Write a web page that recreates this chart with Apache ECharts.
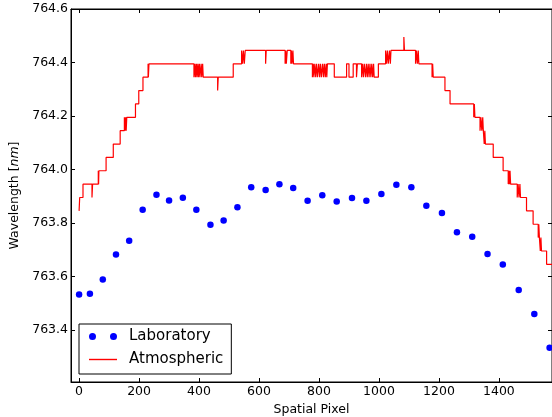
<!DOCTYPE html>
<html>
<head>
<meta charset="utf-8">
<script src="https://cdn.jsdelivr.net/npm/echarts@6/dist/echarts.min.js"></script>
<style>
  html, body { margin: 0; padding: 0; background: #fff; }
  #chart { width: 552px; height: 417px; }
</style>
</head>
<body>
<div id="chart"></div>
<script>
// Laboratory measurements: spatial pixel vs. wavelength (nm)
const labPixel = [0, 36, 79, 123, 167, 212, 258, 300, 346, 391, 438, 482, 528, 574, 622, 668, 714,
  762, 811, 859, 910, 958, 1008, 1058, 1108, 1158, 1210, 1260, 1311, 1362, 1413, 1466, 1518, 1569];
const labWave = [763.532, 763.535, 763.588, 763.682, 763.733, 763.849, 763.905, 763.884, 763.894,
  763.849, 763.793, 763.809, 763.859, 763.933, 763.923, 763.945, 763.931, 763.883, 763.903,
  763.880, 763.893, 763.883, 763.908, 763.943, 763.933, 763.864, 763.837, 763.765, 763.748,
  763.684, 763.644, 763.549, 763.459, 763.333];

// Atmospheric line centre: quantised step profile (each value holds until the next pixel listed)
const atmPixel = [
  0, 2, 13, 43, 45, 64, 65, 66, 90, 114,
  137, 151, 153, 155, 157, 159, 188, 199, 213, 230, 231, 233,
  383, 386, 388, 391, 393, 396, 398, 401, 403, 407, 409, 412, 414,
  462, 464, 514, 542, 545, 548, 551, 554, 622, 624,
  687, 689, 691, 694, 706, 708, 710, 713, 715,
  778, 781, 783, 786, 789, 792, 795, 799, 802, 805, 808, 812, 815, 818, 821, 824, 826, 828,
  851, 892, 900, 914, 925, 928,
  942, 945, 948, 951, 955, 958, 961, 964, 967, 970, 973, 976, 979, 982, 984, 998,
  1022, 1025, 1028, 1031, 1035, 1038, 1040, 1083, 1085,
  1122, 1125, 1128, 1131, 1133, 1177, 1179, 1181,
  1220, 1237, 1316, 1318, 1320, 1337, 1340, 1343, 1346, 1348,
  1351, 1353, 1355, 1381, 1414, 1431, 1433, 1435, 1437, 1439,
  1461, 1464, 1467, 1470, 1472, 1492, 1514,
  1531, 1533, 1535, 1538, 1540, 1542, 1559, 1580
];
const atmWave = [
  763.845, 763.895, 763.945, 763.895, 763.945, 763.995, 763.945, 763.995, 764.045, 764.095,
  764.145, 764.195, 764.145, 764.195, 764.145, 764.195, 764.245, 764.295, 764.345, 764.395, 764.345, 764.395,
  764.345, 764.395, 764.345, 764.395, 764.345, 764.395, 764.345, 764.395, 764.345, 764.395, 764.345, 764.395, 764.345,
  764.295, 764.345, 764.395, 764.445, 764.395, 764.445, 764.395, 764.445, 764.395, 764.445,
  764.395, 764.445, 764.395, 764.445, 764.395, 764.445, 764.395, 764.445, 764.395,
  764.345, 764.395, 764.345, 764.395, 764.345, 764.395, 764.345, 764.395, 764.345, 764.395, 764.345, 764.395, 764.345, 764.395, 764.345, 764.395, 764.345, 764.395,
  764.345, 764.395, 764.345, 764.395, 764.345, 764.395,
  764.345, 764.395, 764.345, 764.395, 764.345, 764.395, 764.345, 764.395, 764.345, 764.395, 764.345, 764.395, 764.345, 764.395, 764.345, 764.395,
  764.445, 764.395, 764.445, 764.395, 764.445, 764.395, 764.445, 764.495, 764.445,
  764.395, 764.445, 764.395, 764.445, 764.395, 764.345, 764.395, 764.345,
  764.295, 764.245, 764.195, 764.245, 764.195, 764.145, 764.195, 764.145, 764.195, 764.145,
  764.095, 764.145, 764.095, 764.045, 763.995, 763.945, 763.995, 763.945, 763.995, 763.945,
  763.895, 763.945, 763.895, 763.945, 763.895, 763.845, 763.795,
  763.745, 763.795, 763.745, 763.695, 763.745, 763.695, 763.645, 763.645
];

// Axis ticks
const xTicks = [0, 200, 400, 600, 800, 1000, 1200, 1400];
const yTicks = [763.4, 763.6, 763.8, 764.0, 764.2, 764.4, 764.6];

const FONT = 'DejaVu Sans';
const X_MIN = -27, X_MAX = 1577, Y_MIN = 763.205, Y_MAX = 764.6;

const labData = labPixel.map((x, i) => [x, labWave[i]]);
const atmData = atmPixel.map((x, i) => [x, atmWave[i]]);

const tickCommon = { inside: true, length: 4, lineStyle: { color: '#000', width: 1 } };

const chart = echarts.init(document.getElementById('chart'), null, { renderer: 'canvas' });
chart.setOption({
  animation: false,
  backgroundColor: '#fff',
  grid: {
    left: 71, right: 0, top: 9, bottom: 35, outerBoundsMode: 'none', containLabel: false,
    show: true, borderColor: '#000', borderWidth: 1
  },
  xAxis: [{
    type: 'value', min: X_MIN, max: X_MAX, position: 'bottom',
    name: 'Spatial Pixel', nameLocation: 'middle', nameGap: 18,
    nameTextStyle: { fontFamily: FONT, fontSize: 12.5, color: '#000' },
    axisLine: { show: true, onZero: false, lineStyle: { color: '#000' } },
    axisTick: Object.assign({ customValues: xTicks }, tickCommon),
    axisLabel: {
      customValues: xTicks, fontFamily: FONT, fontSize: 12.5, color: '#000', margin: 3,
      formatter: v => String(v)
    },
    splitLine: { show: false }
  }, {
    type: 'value', min: X_MIN, max: X_MAX, position: 'top',
    axisLine: { show: true, onZero: false, lineStyle: { color: '#000' } },
    axisTick: Object.assign({ customValues: xTicks }, tickCommon),
    axisLabel: { show: false },
    splitLine: { show: false }
  }],
  yAxis: [{
    type: 'value', min: Y_MIN, max: Y_MAX, position: 'left',
    name: '{a|Wavelength [}{b|nm}{a|]}', nameLocation: 'middle', nameGap: 42, nameRotate: 90,
    nameTextStyle: {
      rich: {
        a: { fontFamily: FONT, fontSize: 12.5, color: '#000' },
        b: { fontFamily: FONT, fontSize: 12.5, fontStyle: 'italic', color: '#000' }
      }
    },
    axisLine: { show: true, onZero: false, lineStyle: { color: '#000' } },
    axisTick: Object.assign({ customValues: yTicks }, tickCommon),
    axisLabel: {
      customValues: yTicks, fontFamily: FONT, fontSize: 12.5, color: '#000', margin: 3,
      formatter: v => v.toFixed(1)
    },
    splitLine: { show: false }
  }, {
    type: 'value', min: Y_MIN, max: Y_MAX, position: 'right',
    axisLine: { show: true, onZero: false, lineStyle: { color: '#000' } },
    axisTick: Object.assign({ customValues: yTicks }, tickCommon),
    axisLabel: { show: false },
    splitLine: { show: false }
  }],
  legend: {
    orient: 'vertical', left: 79, top: 324,
    backgroundColor: '#fff', borderColor: '#000', borderWidth: 1, borderRadius: 0,
    padding: [5, 8, 7, 10], itemGap: 8, itemWidth: 28, itemHeight: 7, symbolKeepAspect: true,
    textStyle: { fontFamily: FONT, fontSize: 15, color: '#000', padding: [0, 0, 0, 7] },
    data: [
      { name: 'Laboratory', icon: 'path://M0,3.5a3.5,3.5 0 1,0 7,0a3.5,3.5 0 1,0 -7,0M21,3.5a3.5,3.5 0 1,0 7,0a3.5,3.5 0 1,0 -7,0' },
      { name: 'Atmospheric', icon: 'path://M0,0h24v1.2h-24z' }
    ]
  },
  series: [{
    name: 'Atmospheric', type: 'line', step: 'end', data: atmData,
    symbol: 'none', xAxisIndex: 0, yAxisIndex: 0,
    lineStyle: { color: '#ff0000', width: 1.2 }, itemStyle: { color: '#ff0000' },
    clip: true, z: 3
  }, {
    name: 'Laboratory', type: 'scatter', data: labData,
    symbol: 'circle', symbolSize: 6.5, xAxisIndex: 0, yAxisIndex: 0,
    itemStyle: { color: '#0000ff', opacity: 1 }, z: 4
  }]
});
</script>
</body>
</html>
